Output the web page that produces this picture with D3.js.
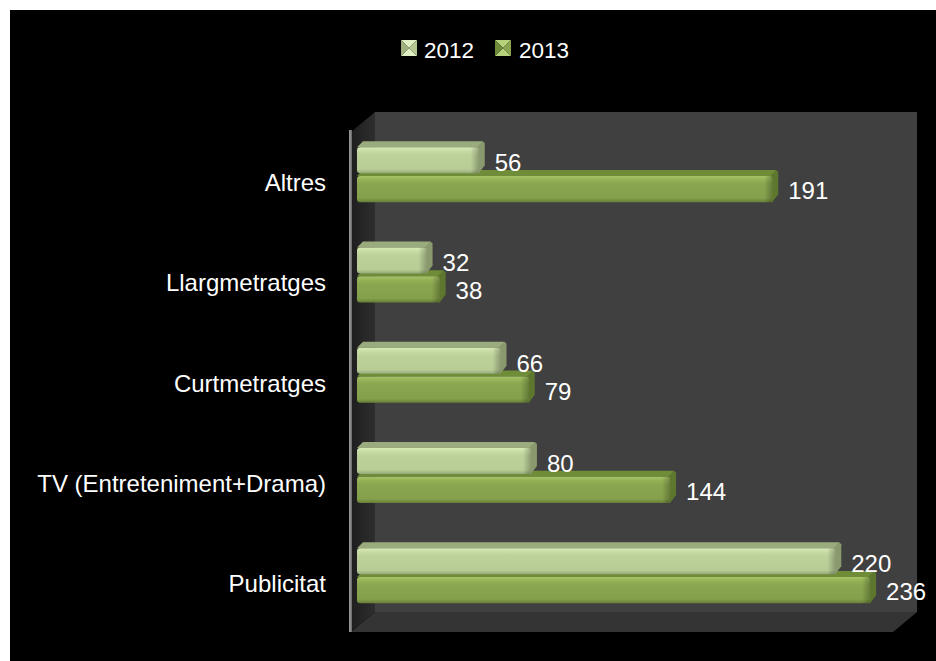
<!DOCTYPE html>
<html>
<head>
<meta charset="utf-8">
<script src="https://cdn.jsdelivr.net/npm/d3@7"></script>
<style>
  html, body { margin: 0; padding: 0; background: #ffffff; }
  svg { display: block; }
  text { font-family: "Liberation Sans", Arial, sans-serif; fill: #ffffff; }
</style>
</head>
<body>
<div id="chart"></div>
<script>
// ---- data ----
const categories = ["Altres", "Llargmetratges", "Curtmetratges", "TV (Entreteniment+Drama)", "Publicitat"];
const seriesNames = ["2012", "2013"];
const values2012 = [56, 32, 66, 80, 220];
const values2013 = [191, 38, 79, 144, 236];
const axisMax = 250;

const W = 936, H = 661;
const svg = d3.select("#chart").append("svg").attr("width", W).attr("height", H);
const defs = svg.append("defs");

// gradients
function vgrad(id, stops) {
  const g = defs.append("linearGradient").attr("id", id).attr("x1", 0).attr("y1", 0).attr("x2", 0).attr("y2", 1);
  stops.forEach(s => g.append("stop").attr("offset", s[0]).attr("stop-color", s[1]));
}
function hgrad(id, stops) {
  const g = defs.append("linearGradient").attr("id", id).attr("x1", 0).attr("y1", 0).attr("x2", 1).attr("y2", 0);
  stops.forEach(s => g.append("stop").attr("offset", s[0]).attr("stop-color", s[1]).attr("stop-opacity", s[2] === undefined ? 1 : s[2]));
}
vgrad("front2012", [[0, "#d9ebb7"], [0.14, "#c8dca6"], [0.3, "#bdd29b"], [0.85, "#b8cd96"], [1, "#97a87a"]]);
vgrad("front2013", [[0, "#a6c465"], [0.14, "#95b257"], [0.3, "#8aa64f"], [0.85, "#84a04b"], [1, "#687f38"]]);
hgrad("endShade", [[0, "#000", 0], [1, "#000", 0.25]]);
hgrad("sideWall", [[0, "#1e1e1e"], [1, "#2e2e2e"]]);
hgrad("edgeLine", [[0, "#a0a0a0"], [1, "#6a6a6a"]]);

const colors = {
  "2012": { front: "url(#front2012)", top: "#9aab7d", right: "#8a9a6e", legendA: "#dfeec4", legendB: "#b4c892", legendC: "#9fb27e" },
  "2013": { front: "url(#front2013)", top: "#6f8c38", right: "#5e772e", legendA: "#b6d27a", legendB: "#8aa64f", legendC: "#6f8a3a" }
};

// background
svg.append("rect").attr("x", 0).attr("y", 0).attr("width", W).attr("height", H).attr("fill", "#ffffff");
svg.append("rect").attr("x", 10).attr("y", 10).attr("width", W - 10).attr("height", H - 10).attr("fill", "#000000");

// scales
const x = d3.scaleLinear().domain([0, axisMax]).range([357, 357 + 543.5]);
const y = d3.scaleBand().domain(categories).range([124, 625.25]).paddingInner(0).paddingOuter(0);
const ys = d3.scaleBand().domain(seriesNames).range([-27, 28]).paddingInner(0.1);

// 3D box walls
const wallL = 375, wallR = 917, wallT = 112, wallB = 612, dX = 24, dY = 20;
svg.append("rect").attr("x", wallL).attr("y", wallT).attr("width", wallR - wallL).attr("height", wallB - wallT).attr("fill", "#404040");
svg.append("polygon")
  .attr("points", [[wallL, wallB], [wallR, wallB], [wallR - dX, wallB + dY], [wallL - dX, wallB + dY]].map(p => p.join(",")).join(" "))
  .attr("fill", "#343434");
svg.append("polygon")
  .attr("points", [[wallL - dX, wallT + dY], [wallL, wallT], [wallL, wallB], [wallL - dX, wallB + dY]].map(p => p.join(",")).join(" "))
  .attr("fill", "url(#sideWall)");
svg.append("rect").attr("x", wallL - dX - 2).attr("y", wallT + dY - 2).attr("width", 3).attr("height", wallB - wallT + 2)
  .attr("fill", "url(#edgeLine)");

// bars
const bd = 6; // bar depth offset
const bars = [];
categories.forEach((c, i) => {
  bars.push({ cat: c, s: "2013", v: values2013[i] });
  bars.push({ cat: c, s: "2012", v: values2012[i] });
});

const gBars = svg.append("g");
bars.forEach(b => {
  const yc = y(b.cat) + y.bandwidth() / 2;
  const y0 = yc + ys(b.s), y1 = y0 + ys.bandwidth();
  const x0 = x(0), x1 = x(b.v);
  const col = colors[b.s];
  const g = gBars.append("g");
  // top face
  g.append("polygon")
    .attr("points", [[x0, y0], [x0 + bd, y0 - bd], [x1 + bd - 2, y0 - bd], [x1, y0]].map(p => p.join(",")).join(" "))
    .attr("fill", col.top);
  // right face
  g.append("polygon")
    .attr("points", [[x1 - 2, y0], [x1 + bd - 2, y0 - bd], [x1 + bd, y0 - bd + 2], [x1 + bd, y1 - bd - 2], [x1, y1], [x1 - 2, y1]].map(p => p.join(",")).join(" "))
    .attr("fill", col.right);
  // front face
  g.append("rect").attr("x", x0).attr("y", y0).attr("width", x1 - x0).attr("height", y1 - y0)
    .attr("rx", 3).attr("fill", col.front);
  // end shading
  g.append("rect").attr("x", x1 - 8).attr("y", y0).attr("width", 8).attr("height", y1 - y0)
    .attr("rx", 3).attr("fill", "url(#endShade)");
});

// value labels
const gLab = svg.append("g");
bars.forEach(b => {
  const yc = y(b.cat) + y.bandwidth() / 2;
  const yb = b.s === "2012" ? yc - 3 : yc + 25;
  gLab.append("text").attr("x", x(b.v) + 16).attr("y", yb)
    .attr("font-size", 24).text(b.v);
});

// category labels
categories.forEach(c => {
  const yc = y(c) + y.bandwidth() / 2;
  svg.append("text").attr("x", 326).attr("y", yc + 17).attr("text-anchor", "end")
    .attr("font-size", 24).text(c);
});

// legend
const legendItems = [{ s: "2012", mx: 401, tx: 424 }, { s: "2013", mx: 495, tx: 519 }];
legendItems.forEach(l => {
  const col = colors[l.s];
  const m = 16, x0 = l.mx, y0 = 40, cx = x0 + m / 2, cy = y0 + m / 2;
  const tri = (pts, f) => svg.append("polygon").attr("points", pts.map(p => p.join(",")).join(" ")).attr("fill", f);
  tri([[x0, y0], [x0 + m, y0], [cx, cy]], col.legendA);
  tri([[x0, y0 + m], [x0 + m, y0 + m], [cx, cy]], col.legendA);
  tri([[x0, y0], [x0, y0 + m], [cx, cy]], col.legendC);
  tri([[x0 + m, y0], [x0 + m, y0 + m], [cx, cy]], col.legendB);
  svg.append("text").attr("x", l.tx).attr("y", 58).attr("font-size", 22.5).text(l.s);
});
</script>
</body>
</html>
